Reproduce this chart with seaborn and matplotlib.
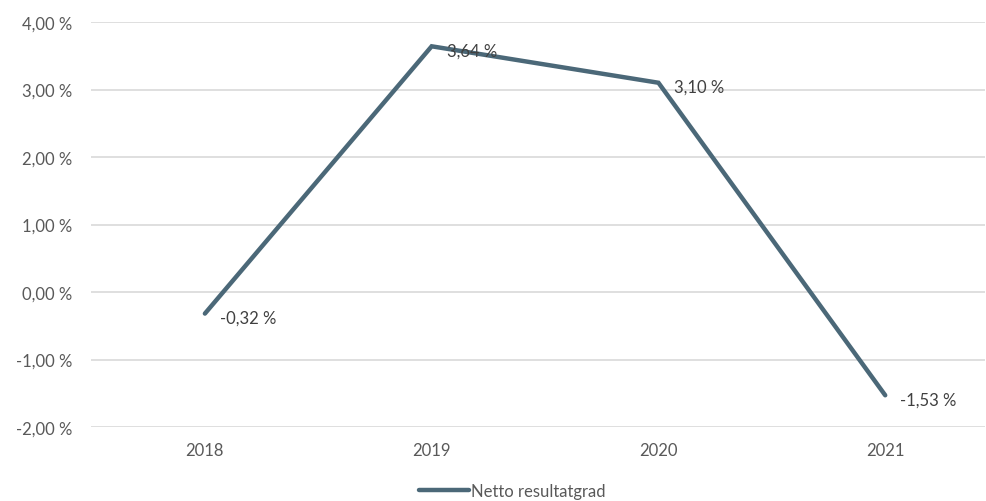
import matplotlib
matplotlib.use("Agg")
import matplotlib.pyplot as plt
import seaborn as sns
import pandas as pd
from matplotlib.ticker import FuncFormatter
from matplotlib.lines import Line2D

years = ["2018", "2019", "2020", "2021"]
values = [-0.32, 3.64, 3.10, -1.53]
series_name = "Netto resultatgrad"
y_ticks = [-2, -1, 0, 1, 2, 3, 4]

sns.set_theme(style="white")
plt.rcParams['font.family'] = ['Lato', 'DejaVu Sans']

text_color = "#595959"
line_color = "#4b6878"
grid_color = "#d9d9d9"
fs = 12

df = pd.DataFrame({"year": years, "value": values, "series": series_name})

fig = plt.figure(figsize=(9.87, 5.02), dpi=100)
ax = fig.add_axes([91.5/987, 1-428/502, (985-91.5)/987, (428-23)/502])

sns.lineplot(data=df, x="year", y="value", hue="series", palette=[line_color],
             linewidth=3.2, ax=ax, legend=False, sort=False)
for l in ax.lines:
    l.set_solid_capstyle("round")
    l.set_solid_joinstyle("miter")

def pct(v):
    return f"{v:.2f}".replace(".", ",") + " %"

for i, v in enumerate(values):
    ax.annotate(pct(v), (i, v), xytext=(11, -3), textcoords="offset points",
                ha="left", va="center", fontsize=fs, color="#404040")

ax.set_ylim(-2, 4)
ax.set_xlim(-0.5, 3.44)
ax.set_yticks(y_ticks)
ax.yaxis.set_major_formatter(FuncFormatter(lambda v, p: pct(v)))
ax.grid(axis="y", color=grid_color, linewidth=1.2)
ax.set_axisbelow(True)
for s in ["top", "right", "left", "bottom"]:
    ax.spines[s].set_visible(False)
ax.tick_params(axis="both", length=0, labelsize=fs, colors=text_color)
ax.tick_params(axis="y", pad=14)
ax.tick_params(axis="x", pad=11)
ax.set_xlabel("")
ax.set_ylabel("")

h = [Line2D([0], [0], color=line_color, linewidth=3.2, solid_capstyle="round")]
leg = fig.legend(h, [series_name], loc="center", bbox_to_anchor=(512/987, 1-492/502),
                 frameon=False, fontsize=fs, handlelength=3.0, handletextpad=0.1)
for t in leg.get_texts():
    t.set_color(text_color)

fig.savefig("out.png", dpi=100)
